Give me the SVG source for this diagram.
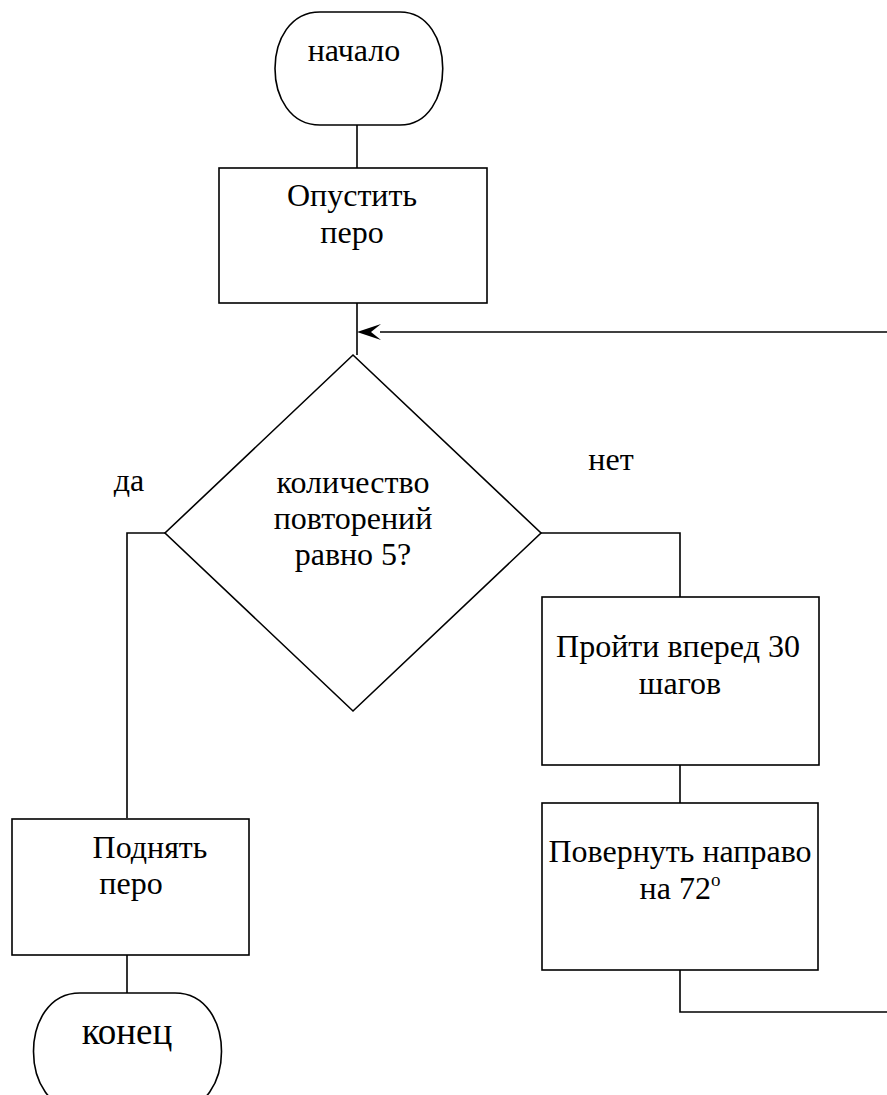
<svg xmlns="http://www.w3.org/2000/svg" width="887" height="1095" viewBox="0 0 887 1095">
<defs>
<style>
.s{fill:#fff;stroke:#000;stroke-width:1.6}
.c{fill:none;stroke:#000;stroke-width:1.6}
text{font-family:'Liberation Serif','Times New Roman',serif;font-size:32px;fill:#000;text-anchor:middle}
</style>
</defs>
<rect width="887" height="1095" fill="#fff"/>
<g id="connectors">
<path class="c" d="M357,125 V168"/>
<path class="c" d="M357,303 V355"/>
<path class="c" d="M887,332 H380"/>
<path d="M357,332 L381,324 L371,332 L381,340 Z" fill="#000"/>
<path class="c" d="M165,533 H127 V818"/>
<path class="c" d="M127,955 V993"/>
<path class="c" d="M541,533 H680 V597"/>
<path class="c" d="M680,765 V803"/>
<path class="c" d="M680,970 V1012 H887"/>
</g>
<g id="start">
<path class="s" d="M320,12 H400 C457,12 457,125 400,125 H320 C260,125 260,12 320,12 Z"/>
<text x="354" y="61">начало</text>
</g>
<g id="pen-down">
<rect class="s" x="219" y="168" width="268" height="135"/>
<text x="352" y="206">Опустить</text>
<text x="352" y="243">перо</text>
</g>
<g id="decision">
<polygon class="s" points="353,355 541,533 353,711 165,533"/>
<text x="353" y="493">количество</text>
<text x="353" y="529">повторений</text>
<text x="353" y="565">равно 5?</text>
</g>
<text x="129" y="491">да</text>
<text x="611" y="470">нет</text>
<g id="forward">
<rect class="s" x="542" y="597" width="277" height="168"/>
<text x="678" y="657">Пройти вперед 30</text>
<text x="680" y="694">шагов</text>
</g>
<g id="turn">
<rect class="s" x="542" y="803" width="276" height="167"/>
<text x="680" y="862">Повернуть направо</text>
<text x="680" y="899">на 72<tspan font-size="19" dy="-13">o</tspan></text>
</g>
<g id="pen-up">
<rect class="s" x="12" y="819" width="237" height="136"/>
<text x="150" y="858">Поднять</text>
<text x="131" y="894">перо</text>
</g>
<g id="end">
<path class="s" d="M80,993 H175 C237,993 237,1110 175,1110 H80 C18,1110 18,993 80,993 Z"/>
<text x="127" y="1044" style="font-size:37px">конец</text>
</g>
</svg>
